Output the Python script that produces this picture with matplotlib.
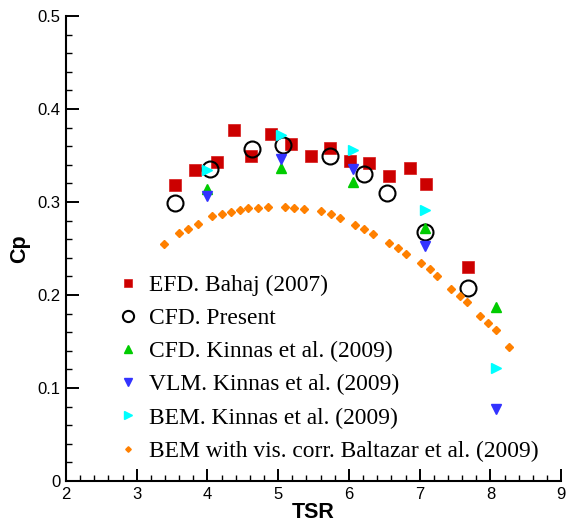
import matplotlib
matplotlib.use('Agg')
import matplotlib.pyplot as plt
from matplotlib.ticker import MultipleLocator

# EFD. Bahaj (2007)
efd_tsr = [3.54, 3.82, 4.13, 4.37, 4.62, 4.90, 5.18, 5.46, 5.73, 6.02, 6.29, 6.57, 6.87, 7.09, 7.69]
efd_cp = [0.318, 0.334, 0.343, 0.377, 0.350, 0.373, 0.362, 0.350, 0.358, 0.344, 0.342, 0.328, 0.337, 0.319, 0.230]

# CFD. Present
cfd_tsr = [3.54, 4.03, 4.63, 5.07, 5.73, 6.21, 6.54, 7.08, 7.69]
cfd_cp = [0.299, 0.335, 0.357, 0.361, 0.349, 0.330, 0.310, 0.268, 0.208]

# Kinnas et al. (2009)
kin_tsr = [3.99, 5.04, 6.06, 7.07, 8.08]
kin_cfd = [0.314, 0.337, 0.321, 0.272, 0.187]
kin_vlm = [0.306, 0.346, 0.335, 0.253, 0.077]
kin_bem = [0.334, 0.372, 0.356, 0.291, 0.121]

# BEM with vis. corr. Baltazar et al. (2009)
bal_tsr = [3.38, 3.60, 3.72, 3.86, 4.07, 4.20, 4.33, 4.46, 4.58, 4.72, 4.86,
           5.09, 5.23, 5.37, 5.60, 5.74, 5.87, 6.08, 6.21, 6.34, 6.56, 6.69,
           6.81, 7.02, 7.14, 7.25, 7.44, 7.57, 7.67, 7.86, 7.97, 8.08, 8.26]
bal_cp = [0.255, 0.267, 0.271, 0.276, 0.285, 0.287, 0.289, 0.291, 0.294, 0.294, 0.295,
          0.295, 0.294, 0.293, 0.290, 0.287, 0.283, 0.275, 0.271, 0.266, 0.256, 0.251,
          0.244, 0.234, 0.228, 0.220, 0.207, 0.199, 0.192, 0.177, 0.170, 0.162, 0.144]

fig = plt.figure(figsize=(5.72, 5.22), dpi=100)
ax = fig.add_axes([0.1154, 0.0785, 0.8656, 0.8908])

ax.plot(efd_tsr, efd_cp, 's', color='#cc0000', ms=8.5, mec='#d81818', mew=0.5, ls='none',
        label='EFD. Bahaj (2007)')
ax.plot(cfd_tsr, cfd_cp, 'o', mfc='none', mec='black', ms=11.5, mew=1.5, ls='none',
        label='CFD. Present')
ax.plot(kin_tsr, kin_cfd, '^', color='#00cc00', ms=7.5, ls='none',
        label='CFD. Kinnas et al. (2009)')
ax.plot(kin_tsr, kin_vlm, 'v', color='#3333ff', ms=7.5, ls='none',
        label='VLM. Kinnas et al. (2009)')
ax.plot(kin_tsr, kin_bem, '>', color='#00ffff', ms=7.5, ls='none',
        label='BEM. Kinnas et al. (2009)')
ax.plot(bal_tsr, bal_cp, 'D', color='#ff8000', ms=4, ls='none',
        label='BEM with vis. corr. Baltazar et al. (2009)')

ax.set_xlim(2, 9)
ax.set_ylim(0, 0.5)
ax.xaxis.set_major_locator(MultipleLocator(1))
ax.xaxis.set_minor_locator(MultipleLocator(0.2))
ax.yaxis.set_major_locator(MultipleLocator(0.1))
ax.yaxis.set_minor_locator(MultipleLocator(0.02))
ax.set_yticks([0, 0.1, 0.2, 0.3, 0.4, 0.5])
ax.set_yticklabels(['0', '0.1', '0.2', '0.3', '0.4', '0.5'])

for s in ['top', 'right']:
    ax.spines[s].set_visible(False)
for s in ['left', 'bottom']:
    ax.spines[s].set_linewidth(1.5)

ax.tick_params(which='major', direction='in', length=9, width=1.4,
               labelsize=12, pad=4)
ax.tick_params(which='minor', direction='in', length=4.5, width=1.0)
for lab in ax.get_xticklabels() + ax.get_yticklabels():
    lab.set_family('Liberation Sans')

ax.set_xlabel('TSR', fontsize=15.5, fontweight='bold', family='Liberation Sans', labelpad=0)
ax.set_ylabel('Cp', fontsize=15.5, fontweight='bold', family='Liberation Sans', labelpad=5)

ax.legend(loc='lower left', bbox_to_anchor=(0.082, 0.016), frameon=False,
          prop={'family': 'Liberation Serif', 'size': 16.9},
          markerscale=0.7, handlelength=0.8, handletextpad=0.5,
          labelspacing=0.5, borderpad=0)

fig.savefig('out.png', dpi=100)
